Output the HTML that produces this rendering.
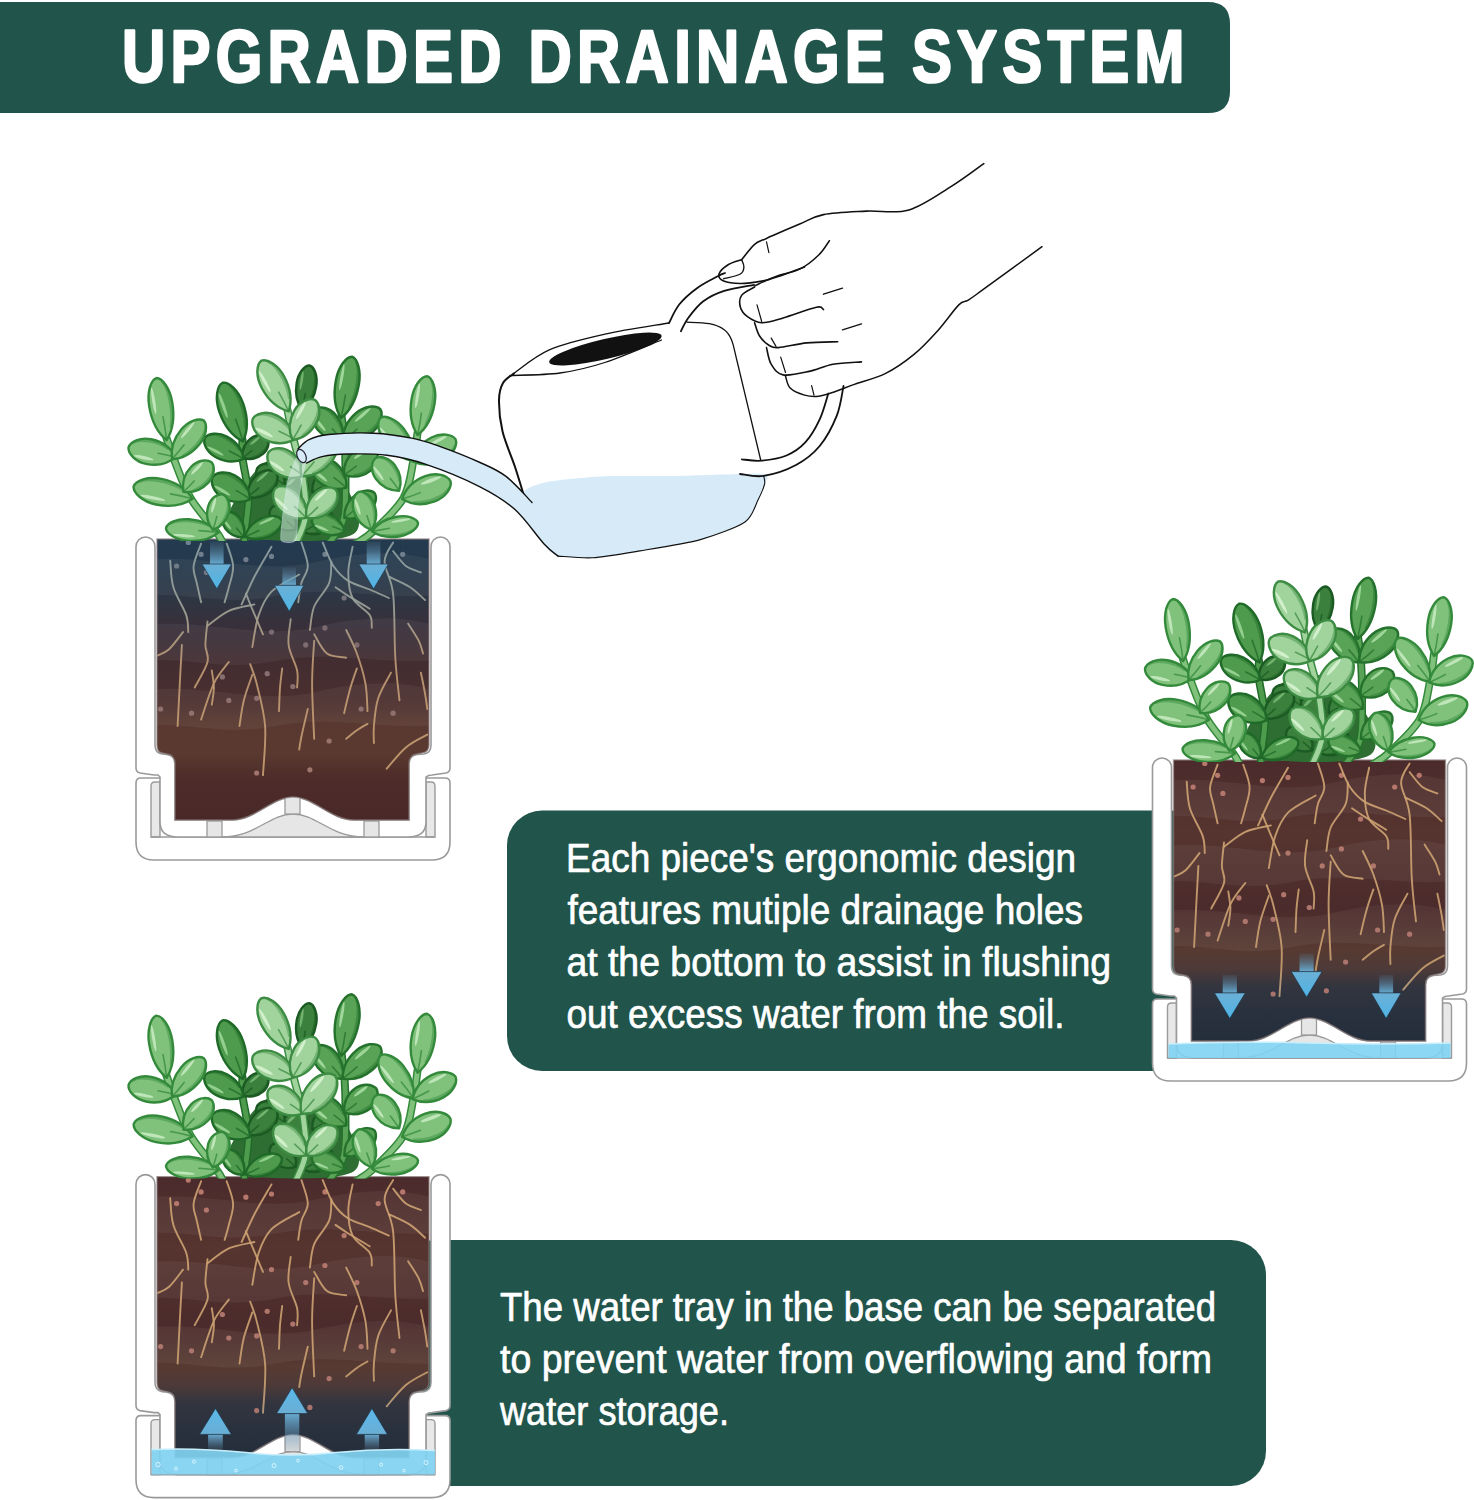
<!DOCTYPE html>
<html><head><meta charset="utf-8"><style>
html,body{margin:0;padding:0;background:#fff;width:1474px;height:1500px;overflow:hidden}
svg{display:block}
</style></head><body>
<svg width="1474" height="1500" viewBox="0 0 1474 1500">
<defs>
<g id="potframe"><path d="M0,246 Q0,241 5,241 H309 Q314,241 314,246 V305 Q314,323 296,323 H18 Q0,323 0,305 Z" fill="#fff" stroke="#9a9a9a" stroke-width="1.6"/><path d="M15,300 V249 Q15,245 19,245 H24 V300 Z" fill="#e8e8e8" stroke="#9a9a9a" stroke-width="1.4"/><path d="M299,300 V249 Q299,245 295,245 H290 V300 Z" fill="#e8e8e8" stroke="#9a9a9a" stroke-width="1.4"/><path d="M15,300 H299" stroke="#9a9a9a" stroke-width="1.6"/><path d="M22,238 Q20,238 18,238 L4,236 Q0,235 0,231 V9.5 A9.5,9.5 0 0 1 19,9.5 V208 Q19,216 26,217 L31,217.5 Q39,218.5 39,227 V283 H96 C119,283 136,260 157,260 C178,260 195,283 218,283 H273 V227 Q273,218.5 281,217.5 L288,217 Q295,216 295,208 V9.5 A9.5,9.5 0 0 1 314,9.5 V231 Q314,235 310,236 L296,238 Q292,238 290,240 V285 Q290,300 272,300 H42 Q24,300 24,285 V240 Q22,238 22,238 Z" fill="#fff" stroke="#9a9a9a" stroke-width="1.6"/><path d="M86,300 C120,300 133,277 157,277 C181,277 194,300 228,300 Z" fill="#e6e6e6" stroke="#9a9a9a" stroke-width="1.4"/><rect x="149" y="258" width="15" height="19" fill="#e6e6e6" stroke="#9a9a9a" stroke-width="1.3"/><rect x="71" y="284" width="15" height="16" fill="#e6e6e6" stroke="#9a9a9a" stroke-width="1.3"/><rect x="228" y="284" width="15" height="16" fill="#e6e6e6" stroke="#9a9a9a" stroke-width="1.3"/></g>
<clipPath id="plantclip"><rect x="-50" y="-250" width="420" height="254"/></clipPath>
<clipPath id="soilclip"><path d="M21,2 H293 V208 Q293,215 286,216 L281,217 Q273,218 273,227 V283 H218 C195,283 178,260 157,260 C136,260 119,283 96,283 H39 V227 Q39,218 31,217 L26,216 Q21,215 21,208 Z"/></clipPath>
<g id="roots" fill="none" stroke-linecap="round"><path d="M34.2,23.7 C34.7,28.1 34.7,41.3 37.4,50.3 C40,59.4 47.7,70.6 50.2,78.1 C52.7,85.5 51.9,92.3 52.3,95.1"/><path d="M65.1,6.6 C63.9,10.3 58.3,22.4 57.6,29 C56.9,35.6 59.6,40 60.8,46.1 C62.1,52.1 64.4,62.1 65.1,65.3"/><path d="M90.7,6.6 C91.8,10.3 96.8,21.7 97.1,29 C97.5,36.3 94.3,44.3 92.8,50.3 C91.4,56.4 89.3,62.8 88.6,65.3"/><path d="M135.5,9.8 C132.7,14.8 123.4,30.1 118.4,39.7 C113.5,49.3 107.8,62.8 105.6,67.4"/><path d="M118.4,67.4 C114.2,68.5 100.7,70.3 92.8,73.8 C85,77.4 75.1,86.3 71.5,88.7"/><path d="M71.5,84.5 C71.2,88.4 69.4,101.2 69.4,107.9 C69.4,114.7 73.3,117.9 71.5,125 C69.7,132.1 60.8,146.3 58.7,150.6"/><path d="M47,95.1 C44.7,98 37.4,108.3 33.1,112.2 C28.8,116.1 23.3,117.5 21.4,118.6"/><path d="M45.9,107.9 C45.5,114.3 44.5,132.8 43.8,146.3 C43.1,159.9 42,181.9 41.6,189"/><path d="M109.9,56.7 C111.7,61 117.7,75.6 120.6,82.3 C123.4,89.1 125.9,94.8 127,97.3"/><path d="M163.2,37.5 C158.6,40.4 142.3,47.8 135.5,54.6 C128.8,61.4 125.9,68.8 122.7,78.1 C119.5,87.3 117.4,104.7 116.3,110.1"/><path d="M165.4,5.5 C166.5,9.4 171.8,22.2 171.8,29 C171.8,35.8 167,40 165.4,46.1 C163.8,52.1 162.7,62.1 162.2,65.3"/><path d="M154.7,82.3 C154.4,86.6 151.5,99.4 152.6,107.9 C153.6,116.5 159.7,126.4 161.1,133.5 C162.5,140.7 161.1,147.8 161.1,150.6"/><path d="M178.2,103.7 C177.8,110.8 176.1,130 176.1,146.3 C176.1,162.7 177.8,192.6 178.2,201.8"/><path d="M195.3,24.7 C194.9,28.3 196,38.6 193.1,46.1 C190.3,53.5 181.4,61.7 178.2,69.5 C175,77.4 174.6,89.1 173.9,93"/><path d="M186.7,5.5 C188.5,9.4 193.1,22.6 197.4,29 C201.7,35.4 206.3,40 212.3,43.9 C218.4,47.8 226.9,49.6 233.7,52.5 C240.4,55.3 249.7,59.6 252.9,61"/><path d="M216.6,9.8 C215.9,14.1 212.3,26.9 212.3,35.4 C212.3,43.9 213,53.9 216.6,61 C220.1,68.1 230.5,73.1 233.7,78.1 C236.9,83.1 235.4,88.7 235.8,90.9"/><path d="M257.1,5.5 C255.7,8.7 248.6,16.2 248.6,24.7 C248.6,33.3 255.3,40.7 257.1,56.7 C258.9,72.7 258.2,103 259.3,120.7 C260.3,138.5 262.8,156.3 263.5,163.4"/><path d="M257.1,14.1 C259.3,16.6 265.3,25.4 269.9,29 C274.6,32.6 282.4,34.3 284.9,35.4"/><path d="M252.9,39.7 C256.4,41.4 268.2,46.4 274.2,50.3 C280.2,54.3 286.6,61 289.1,63.1"/><path d="M199.5,50.3 C201.7,51.8 206.6,55.3 212.3,58.9 C218,62.4 230.1,69.5 233.7,71.7"/><path d="M178.2,97.3 C180.3,100.5 185.7,112.6 191,116.5 C196.3,120.4 207,120 210.2,120.7"/><path d="M210.2,93 C212,96.9 217.7,107.6 220.9,116.5 C224.1,125.4 227.6,136.7 229.4,146.3 C231.2,156 231.2,169.5 231.5,174.1"/><path d="M272.1,86.6 C273.8,89.5 280.2,98.7 282.7,103.7 C285.2,108.7 286.3,114.3 287,116.5"/><path d="M284.9,135.7 C285.6,139.2 288.1,151 289.1,157 C290.2,163.1 290.9,169.5 291.3,172"/><path d="M255,135.7 C252.9,139.9 245,152.4 242.2,161.3 C239.3,170.2 238.6,181.6 237.9,189 C237.2,196.5 237.9,203.2 237.9,206.1"/><path d="M220.9,131.4 C219.8,134.6 216.6,143.1 214.5,150.6 C212.3,158.1 209.1,172 208.1,176.2"/><path d="M75.8,133.5 C76.1,136.4 77.9,144.9 77.9,150.6 C77.9,156.3 76.1,164.8 75.8,167.7"/><path d="M92.8,125 C90.4,128.6 82.5,136.7 77.9,146.3 C73.3,156 67.2,176.6 65.1,182.6"/><path d="M114.2,127.1 C115.2,130.3 118.1,136 120.6,146.3 C123.1,156.7 128,173.7 129.1,189 C130.2,204.3 127.3,229.9 127,238.1"/><path d="M116.3,137.8 C114.9,142.1 109.9,154.9 107.8,163.4 C105.6,172 104.2,184.8 103.5,189"/><path d="M146.2,131.4 C145.8,134.6 144.6,143.5 144,150.6 C143.5,157.7 143.2,170.2 143,174.1"/><path d="M171.8,172 C170.7,176.6 166.8,192.9 165.4,199.7 C164,206.4 163.6,210.4 163.2,212.5"/><path d="M231.5,186.9 C229.7,188 224.4,190.8 220.9,193.3 C217.3,195.8 212,200.4 210.2,201.8"/><path d="M291.3,197.6 C287.7,199.7 276.7,204.7 269.9,210.4 C263.2,216 253.9,228.1 250.7,231.7"/></g>
<g id="dots"><circle cx="40.6" cy="29" r="2.6"/><circle cx="65.1" cy="17.3" r="2.6"/><circle cx="70.4" cy="35.4" r="2.6"/><circle cx="109.9" cy="22.6" r="2.6"/><circle cx="135.5" cy="19.4" r="2.6"/><circle cx="188.9" cy="17.3" r="2.6"/><circle cx="242.2" cy="29" r="2.6"/><circle cx="266.7" cy="17.3" r="2.6"/><circle cx="208.1" cy="61" r="2.6"/><circle cx="135.5" cy="95.1" r="2.6"/><circle cx="188.9" cy="90.9" r="2.6"/><circle cx="131.2" cy="136.7" r="2.6"/><circle cx="156.8" cy="149.5" r="2.6"/><circle cx="86.4" cy="139.9" r="2.6"/><circle cx="92.8" cy="163.4" r="2.6"/><circle cx="120.6" cy="161.3" r="2.6"/><circle cx="55.5" cy="176.2" r="2.6"/><circle cx="24.6" cy="172" r="2.6"/><circle cx="225.1" cy="172" r="2.6"/><circle cx="257.1" cy="176.2" r="2.6"/><circle cx="193.1" cy="204" r="2.6"/><circle cx="120.6" cy="236" r="2.6"/><circle cx="173.9" cy="232.8" r="2.6"/><circle cx="52.3" cy="5.5" r="2.6"/><circle cx="220.9" cy="107.9" r="2.6"/><circle cx="169.7" cy="107.9" r="2.6"/></g>
<linearGradient id="soilTL" x1="0" y1="0" x2="0" y2="1">
<stop offset="0" stop-color="#233b50"/><stop offset="0.1" stop-color="#25394c"/><stop offset="0.2" stop-color="#2e3644"/><stop offset="0.3" stop-color="#38303a"/><stop offset="0.42" stop-color="#432d31"/>
<stop offset="0.55" stop-color="#4b2f2e"/><stop offset="0.62" stop-color="#583830"/><stop offset="0.72" stop-color="#5a3a30"/><stop offset="0.8" stop-color="#4d2c2a"/><stop offset="1" stop-color="#472627"/></linearGradient>
<linearGradient id="soilR" x1="0" y1="0" x2="0" y2="1">
<stop offset="0" stop-color="#4a2a2b"/><stop offset="0.25" stop-color="#563530"/><stop offset="0.5" stop-color="#4b2b2b"/>
<stop offset="0.64" stop-color="#573a32"/><stop offset="0.7" stop-color="#4e3a38"/><stop offset="0.76" stop-color="#33353f"/><stop offset="0.85" stop-color="#29313e"/><stop offset="1" stop-color="#212b38"/></linearGradient>
<linearGradient id="rootTL" gradientUnits="userSpaceOnUse" x1="0" y1="0" x2="0" y2="300">
<stop offset="0" stop-color="#8fa3a6"/><stop offset="0.22" stop-color="#9ca29a"/><stop offset="0.42" stop-color="#bf9a74"/><stop offset="1" stop-color="#cda272"/></linearGradient>
<linearGradient id="rootR" gradientUnits="userSpaceOnUse" x1="0" y1="0" x2="0" y2="300">
<stop offset="0" stop-color="#d0a372"/><stop offset="0.7" stop-color="#c99f70"/><stop offset="0.9" stop-color="#a8a096"/><stop offset="1" stop-color="#8c98a0"/></linearGradient>
<linearGradient id="dottl" gradientUnits="userSpaceOnUse" x1="0" y1="0" x2="0" y2="300">
<stop offset="0" stop-color="#6e8494"/><stop offset="0.3" stop-color="#7a6a70"/><stop offset="1" stop-color="#b27a6c"/></linearGradient>
<linearGradient id="dotr" gradientUnits="userSpaceOnUse" x1="0" y1="0" x2="0" y2="300">
<stop offset="0" stop-color="#b8786c"/><stop offset="0.8" stop-color="#a8746c"/><stop offset="1" stop-color="#5a5a66"/></linearGradient>
<linearGradient id="dotb" href="#dotr"/>
<linearGradient id="headgD" x1="0" y1="0" x2="0" y2="1"><stop offset="0" stop-color="#6bb0d6"/><stop offset="1" stop-color="#4fb4e6"/></linearGradient>
<linearGradient id="stemgD" x1="0" y1="0" x2="0" y2="1"><stop offset="0" stop-color="#5a7d96" stop-opacity="0.15"/><stop offset="1" stop-color="#6ab0d8" stop-opacity="0.95"/></linearGradient>
<linearGradient id="headgU" x1="0" y1="0" x2="0" y2="1"><stop offset="0" stop-color="#5ab8ea"/><stop offset="1" stop-color="#6aaed4"/></linearGradient>
<linearGradient id="stemgU" x1="0" y1="0" x2="0" y2="1"><stop offset="0" stop-color="#6ab0d8" stop-opacity="0.95"/><stop offset="1" stop-color="#5a7d96" stop-opacity="0.15"/></linearGradient>
<g id="bands" fill="#ffffff" fill-opacity="0.05"><path d="M0,25 C60,13 120,39 180,25 S280,15 314,29 V57 C250,65 200,47 140,59 S40,51 0,61 Z"/><path d="M0,90 C60,78 120,104 180,90 S280,80 314,94 V122 C250,130 200,112 140,124 S40,116 0,126 Z"/><path d="M0,155 C60,143 120,169 180,155 S280,145 314,159 V187 C250,195 200,177 140,189 S40,181 0,191 Z"/></g>
<g id="plant"><path d="M97.5,-3 C79.5,-11.3 101.2,-39.7 109.5,-53 C117.8,-66.3 132.8,-80.5 147.5,-83 C162.2,-85.5 185.8,-81.3 197.5,-68 C209.2,-54.7 234.2,-13.8 217.5,-3 C200.8,7.8 115.5,5.3 97.5,-3Z" fill="#2f6e33"/><g transform="translate(169.9,-149) rotate(-80.8)"><path d="M-22.8,0 C-17.1,-5.9 -8,-9.9 3.4,-9.9 C14.1,-9.9 22.1,-4.8 22.8,0 C22.1,4.8 14.1,9.9 3.4,9.9 C-8,9.9 -17.1,5.9 -22.8,0Z" fill="#3b803d" stroke="#1b5a22" stroke-width="2.4" stroke-linejoin="round"/><path d="M-13.7,5.4 C-2.3,9.4 13.7,8.9 19.4,4.5" fill="none" stroke="#1b5a22" stroke-width="2.2" stroke-opacity="0.45" stroke-linecap="round"/><path d="M-22.8,0 Q-13.7,0.5 -5.7,0.2" fill="none" stroke="#1b5a22" stroke-width="1.6" stroke-opacity="0.75" stroke-linecap="round"/><ellipse cx="6.8" cy="-5.4" rx="9.6" ry="1.3" fill="#72b36f"/></g><g transform="translate(147.5,-18.4) rotate(-138.6)"><path d="M-16.2,0 C-12.2,-6.5 -5.7,-10.8 2.4,-10.8 C10.1,-10.8 15.7,-5.2 16.2,0 C15.7,5.2 10.1,10.8 2.4,10.8 C-5.7,10.8 -12.2,6.5 -16.2,0Z" fill="#3b803d" stroke="#1b5a22" stroke-width="2.4" stroke-linejoin="round"/><path d="M-9.7,5.9 C-1.6,10.3 9.7,9.7 13.8,4.9" fill="none" stroke="#1b5a22" stroke-width="2.4" stroke-opacity="0.45" stroke-linecap="round"/><path d="M-16.2,0 Q-9.7,0.5 -4.1,0.2" fill="none" stroke="#1b5a22" stroke-width="1.6" stroke-opacity="0.75" stroke-linecap="round"/><ellipse cx="4.9" cy="-5.9" rx="6.8" ry="1.4" fill="#72b36f"/></g><g transform="translate(181.5,-14) rotate(-31.6)"><path d="M-16.8,0 C-12.6,-6.5 -5.9,-10.8 2.5,-10.8 C10.4,-10.8 16.3,-5.2 16.8,0 C16.3,5.2 10.4,10.8 2.5,10.8 C-5.9,10.8 -12.6,6.5 -16.8,0Z" fill="#3b803d" stroke="#1b5a22" stroke-width="2.4" stroke-linejoin="round"/><path d="M-10.1,5.9 C-1.7,10.3 10.1,9.7 14.2,4.9" fill="none" stroke="#1b5a22" stroke-width="2.4" stroke-opacity="0.45" stroke-linecap="round"/><path d="M-16.8,0 Q-10.1,0.5 -4.2,0.2" fill="none" stroke="#1b5a22" stroke-width="1.6" stroke-opacity="0.75" stroke-linecap="round"/><ellipse cx="5" cy="-5.9" rx="7" ry="1.4" fill="#72b36f"/></g><g transform="translate(157.5,-48) rotate(-45)"><path d="M-15.6,0 C-11.7,-7.6 -5.5,-12.6 2.3,-12.6 C9.7,-12.6 15.2,-6 15.6,0 C15.2,6 9.7,12.6 2.3,12.6 C-5.5,12.6 -11.7,7.6 -15.6,0Z" fill="#3b803d" stroke="#1b5a22" stroke-width="2.4" stroke-linejoin="round"/><path d="M-9.4,6.9 C-1.6,12 9.4,11.3 13.3,5.7" fill="none" stroke="#1b5a22" stroke-width="2.8" stroke-opacity="0.45" stroke-linecap="round"/><path d="M-15.6,0 Q-9.4,0.6 -3.9,0.3" fill="none" stroke="#1b5a22" stroke-width="1.6" stroke-opacity="0.75" stroke-linecap="round"/><ellipse cx="4.7" cy="-6.9" rx="6.6" ry="1.6" fill="#72b36f"/></g><g transform="translate(135,-60.5) rotate(-149)"><path d="M-16.1,0 C-12.1,-7 -5.6,-11.7 2.4,-11.7 C10,-11.7 15.6,-5.6 16.1,0 C15.6,5.6 10,11.7 2.4,11.7 C-5.6,11.7 -12.1,7 -16.1,0Z" fill="#3b803d" stroke="#1b5a22" stroke-width="2.4" stroke-linejoin="round"/><path d="M-9.6,6.4 C-1.6,11.1 9.6,10.5 13.7,5.3" fill="none" stroke="#1b5a22" stroke-width="2.6" stroke-opacity="0.45" stroke-linecap="round"/><path d="M-16.1,0 Q-9.6,0.6 -4,0.2" fill="none" stroke="#1b5a22" stroke-width="1.6" stroke-opacity="0.75" stroke-linecap="round"/><ellipse cx="4.8" cy="-6.4" rx="6.8" ry="1.5" fill="#72b36f"/></g><g transform="translate(188.5,-52) rotate(-28.6)"><path d="M-14,0 C-10.5,-7 -4.9,-11.7 2.1,-11.7 C8.7,-11.7 13.6,-5.6 14,0 C13.6,5.6 8.7,11.7 2.1,11.7 C-4.9,11.7 -10.5,7 -14,0Z" fill="#3b803d" stroke="#1b5a22" stroke-width="2.4" stroke-linejoin="round"/><path d="M-8.4,6.4 C-1.4,11.1 8.4,10.5 11.9,5.3" fill="none" stroke="#1b5a22" stroke-width="2.6" stroke-opacity="0.45" stroke-linecap="round"/><path d="M-14,0 Q-8.4,0.6 -3.5,0.2" fill="none" stroke="#1b5a22" stroke-width="1.6" stroke-opacity="0.75" stroke-linecap="round"/><ellipse cx="4.2" cy="-6.4" rx="5.9" ry="1.5" fill="#72b36f"/></g><path d="M106.5,-97 C106.5,-94 105.5,-88.5 106.5,-79 C107.5,-69.5 112.2,-53 112.5,-40 C112.8,-27 109,-8.8 108.5,-1 C108,6.8 109.3,5.7 109.5,7" fill="none" stroke="#1f6a28" stroke-width="8" stroke-linecap="round"/><path d="M106.5,-97 C106.5,-94 105.5,-88.5 106.5,-79 C107.5,-69.5 112.2,-53 112.5,-40 C112.8,-27 109,-8.8 108.5,-1 C108,6.8 109.3,5.7 109.5,7" fill="none" stroke="#4f9b4d" stroke-width="5" stroke-linecap="round"/><g transform="translate(96.8,-124.9) rotate(-109.2)"><path d="M-31.1,0 C-23.3,-7.6 -10.9,-12.6 4.7,-12.6 C19.3,-12.6 30.2,-6 31.1,0 C30.2,6 19.3,12.6 4.7,12.6 C-10.9,12.6 -23.3,7.6 -31.1,0Z" fill="#4f9b4d" stroke="#1f6a28" stroke-width="2.4" stroke-linejoin="round"/><path d="M-18.7,6.9 C-3.1,12 18.7,11.3 26.4,5.7" fill="none" stroke="#1f6a28" stroke-width="2.8" stroke-opacity="0.45" stroke-linecap="round"/><path d="M-31.1,0 Q-18.7,0.6 -7.8,0.3" fill="none" stroke="#1f6a28" stroke-width="1.6" stroke-opacity="0.75" stroke-linecap="round"/><ellipse cx="9.3" cy="-6.9" rx="13.1" ry="1.6" fill="#93cf8f"/></g><g transform="translate(118.9,-89.2) rotate(-39.5)"><path d="M-15.8,0 C-11.9,-5.9 -5.5,-9.9 2.4,-9.9 C9.8,-9.9 15.3,-4.8 15.8,0 C15.3,4.8 9.8,9.9 2.4,9.9 C-5.5,9.9 -11.9,5.9 -15.8,0Z" fill="#3b803d" stroke="#1b5a22" stroke-width="2.4" stroke-linejoin="round"/><path d="M-9.5,5.4 C-1.6,9.4 9.5,8.9 13.4,4.5" fill="none" stroke="#1b5a22" stroke-width="2.2" stroke-opacity="0.45" stroke-linecap="round"/><path d="M-15.8,0 Q-9.5,0.5 -4,0.2" fill="none" stroke="#1b5a22" stroke-width="1.6" stroke-opacity="0.75" stroke-linecap="round"/><ellipse cx="4.7" cy="-5.4" rx="6.6" ry="1.3" fill="#72b36f"/></g><g transform="translate(88.3,-88.5) rotate(-151.8)"><path d="M-22.1,0 C-16.6,-7 -7.8,-11.7 3.3,-11.7 C13.7,-11.7 21.5,-5.6 22.1,0 C21.5,5.6 13.7,11.7 3.3,11.7 C-7.8,11.7 -16.6,7 -22.1,0Z" fill="#4f9b4d" stroke="#1f6a28" stroke-width="2.4" stroke-linejoin="round"/><path d="M-13.3,6.4 C-2.2,11.1 13.3,10.5 18.8,5.3" fill="none" stroke="#1f6a28" stroke-width="2.6" stroke-opacity="0.45" stroke-linecap="round"/><path d="M-22.1,0 Q-13.3,0.6 -5.5,0.2" fill="none" stroke="#1f6a28" stroke-width="1.6" stroke-opacity="0.75" stroke-linecap="round"/><ellipse cx="6.6" cy="-6.4" rx="9.3" ry="1.5" fill="#93cf8f"/></g><g transform="translate(126,-52.2) rotate(-40.4)"><path d="M-18.6,0 C-13.9,-6.5 -6.5,-10.8 2.8,-10.8 C11.5,-10.8 18,-5.2 18.6,0 C18,5.2 11.5,10.8 2.8,10.8 C-6.5,10.8 -13.9,6.5 -18.6,0Z" fill="#3b803d" stroke="#1b5a22" stroke-width="2.4" stroke-linejoin="round"/><path d="M-11.1,5.9 C-1.9,10.3 11.1,9.7 15.8,4.9" fill="none" stroke="#1b5a22" stroke-width="2.4" stroke-opacity="0.45" stroke-linecap="round"/><path d="M-18.6,0 Q-11.1,0.5 -4.6,0.2" fill="none" stroke="#1b5a22" stroke-width="1.6" stroke-opacity="0.75" stroke-linecap="round"/><ellipse cx="5.6" cy="-5.9" rx="7.8" ry="1.4" fill="#72b36f"/></g><g transform="translate(95.5,-48.9) rotate(-149.3)"><path d="M-21.9,0 C-16.4,-7.6 -7.7,-12.6 3.3,-12.6 C13.6,-12.6 21.2,-6 21.9,0 C21.2,6 13.6,12.6 3.3,12.6 C-7.7,12.6 -16.4,7.6 -21.9,0Z" fill="#4f9b4d" stroke="#1f6a28" stroke-width="2.4" stroke-linejoin="round"/><path d="M-13.1,6.9 C-2.2,12 13.1,11.3 18.6,5.7" fill="none" stroke="#1f6a28" stroke-width="2.8" stroke-opacity="0.45" stroke-linecap="round"/><path d="M-21.9,0 Q-13.1,0.6 -5.5,0.3" fill="none" stroke="#1f6a28" stroke-width="1.6" stroke-opacity="0.75" stroke-linecap="round"/><ellipse cx="6.6" cy="-6.9" rx="9.2" ry="1.6" fill="#93cf8f"/></g><g transform="translate(98,-12) rotate(-127.7)"><path d="M-15.4,0 C-11.6,-5.4 -5.4,-9 2.3,-9 C9.5,-9 14.9,-4.3 15.4,0 C14.9,4.3 9.5,9 2.3,9 C-5.4,9 -11.6,5.4 -15.4,0Z" fill="#4f9b4d" stroke="#1f6a28" stroke-width="2.4" stroke-linejoin="round"/><path d="M-9.2,5 C-1.5,8.5 9.2,8.1 13.1,4" fill="none" stroke="#1f6a28" stroke-width="2" stroke-opacity="0.45" stroke-linecap="round"/><path d="M-15.4,0 Q-9.2,0.5 -3.9,0.2" fill="none" stroke="#1f6a28" stroke-width="1.6" stroke-opacity="0.75" stroke-linecap="round"/><ellipse cx="4.6" cy="-5" rx="6.5" ry="1.2" fill="#93cf8f"/></g><g transform="translate(127.3,-8.7) rotate(-24.5)"><path d="M-20.1,0 C-15.1,-5.9 -7,-9.9 3,-9.9 C12.4,-9.9 19.5,-4.8 20.1,0 C19.5,4.8 12.4,9.9 3,9.9 C-7,9.9 -15.1,5.9 -20.1,0Z" fill="#4f9b4d" stroke="#1f6a28" stroke-width="2.4" stroke-linejoin="round"/><path d="M-12,5.4 C-2,9.4 12,8.9 17.1,4.5" fill="none" stroke="#1f6a28" stroke-width="2.2" stroke-opacity="0.45" stroke-linecap="round"/><path d="M-20.1,0 Q-12,0.5 -5,0.2" fill="none" stroke="#1f6a28" stroke-width="1.6" stroke-opacity="0.75" stroke-linecap="round"/><ellipse cx="6" cy="-5.4" rx="8.4" ry="1.3" fill="#93cf8f"/></g><path d="M205.5,-121 C206,-117 207.8,-107.5 208.5,-97 C209.2,-86.5 209.7,-71.2 209.5,-58 C209.3,-44.8 210.3,-28.8 207.5,-18 C204.7,-7.2 195,2.8 192.5,7" fill="none" stroke="#24722c" stroke-width="8" stroke-linecap="round"/><path d="M205.5,-121 C206,-117 207.8,-107.5 208.5,-97 C209.2,-86.5 209.7,-71.2 209.5,-58 C209.3,-44.8 210.3,-28.8 207.5,-18 C204.7,-7.2 195,2.8 192.5,7" fill="none" stroke="#58a356" stroke-width="5" stroke-linecap="round"/><g transform="translate(210.5,-149.6) rotate(-79.9)"><path d="M-31.2,0 C-23.4,-7 -10.9,-11.7 4.7,-11.7 C19.3,-11.7 30.3,-5.6 31.2,0 C30.3,5.6 19.3,11.7 4.7,11.7 C-10.9,11.7 -23.4,7 -31.2,0Z" fill="#58a356" stroke="#24722c" stroke-width="2.4" stroke-linejoin="round"/><path d="M-18.7,6.4 C-3.1,11.1 18.7,10.5 26.5,5.3" fill="none" stroke="#24722c" stroke-width="2.6" stroke-opacity="0.45" stroke-linecap="round"/><path d="M-31.2,0 Q-18.7,0.6 -7.8,0.2" fill="none" stroke="#24722c" stroke-width="1.6" stroke-opacity="0.75" stroke-linecap="round"/><ellipse cx="9.4" cy="-6.4" rx="13.1" ry="1.5" fill="#9fd69a"/></g><g transform="translate(192.9,-112) rotate(-129.6)"><path d="M-21,0 C-15.7,-7 -7.3,-11.7 3.1,-11.7 C13,-11.7 20.3,-5.6 21,0 C20.3,5.6 13,11.7 3.1,11.7 C-7.3,11.7 -15.7,7 -21,0Z" fill="#58a356" stroke="#24722c" stroke-width="2.4" stroke-linejoin="round"/><path d="M-12.6,6.4 C-2.1,11.1 12.6,10.5 17.8,5.3" fill="none" stroke="#24722c" stroke-width="2.6" stroke-opacity="0.45" stroke-linecap="round"/><path d="M-21,0 Q-12.6,0.6 -5.2,0.2" fill="none" stroke="#24722c" stroke-width="1.6" stroke-opacity="0.75" stroke-linecap="round"/><ellipse cx="6.3" cy="-6.4" rx="8.8" ry="1.5" fill="#9fd69a"/></g><g transform="translate(225.5,-112) rotate(-40.5)"><path d="M-24.6,0 C-18.4,-7.6 -8.6,-12.6 3.7,-12.6 C15.2,-12.6 23.8,-6 24.6,0 C23.8,6 15.2,12.6 3.7,12.6 C-8.6,12.6 -18.4,7.6 -24.6,0Z" fill="#58a356" stroke="#24722c" stroke-width="2.4" stroke-linejoin="round"/><path d="M-14.8,6.9 C-2.5,12 14.8,11.3 20.9,5.7" fill="none" stroke="#24722c" stroke-width="2.8" stroke-opacity="0.45" stroke-linecap="round"/><path d="M-24.6,0 Q-14.8,0.6 -6.1,0.3" fill="none" stroke="#24722c" stroke-width="1.6" stroke-opacity="0.75" stroke-linecap="round"/><ellipse cx="7.4" cy="-6.9" rx="10.3" ry="1.6" fill="#9fd69a"/></g><g transform="translate(193.6,-62.6) rotate(-141.5)"><path d="M-21.4,0 C-16.1,-7.6 -7.5,-12.6 3.2,-12.6 C13.3,-12.6 20.8,-6 21.4,0 C20.8,6 13.3,12.6 3.2,12.6 C-7.5,12.6 -16.1,7.6 -21.4,0Z" fill="#58a356" stroke="#24722c" stroke-width="2.4" stroke-linejoin="round"/><path d="M-12.9,6.9 C-2.1,12 12.9,11.3 18.2,5.7" fill="none" stroke="#24722c" stroke-width="2.8" stroke-opacity="0.45" stroke-linecap="round"/><path d="M-21.4,0 Q-12.9,0.6 -5.4,0.3" fill="none" stroke="#24722c" stroke-width="1.6" stroke-opacity="0.75" stroke-linecap="round"/><ellipse cx="6.4" cy="-6.9" rx="9" ry="1.6" fill="#9fd69a"/></g><g transform="translate(224.1,-74.2) rotate(-36.6)"><path d="M-20.1,0 C-15,-7.6 -7,-12.6 3,-12.6 C12.4,-12.6 19.4,-6 20.1,0 C19.4,6 12.4,12.6 3,12.6 C-7,12.6 -15,7.6 -20.1,0Z" fill="#58a356" stroke="#24722c" stroke-width="2.4" stroke-linejoin="round"/><path d="M-12,6.9 C-2,12 12,11.3 17,5.7" fill="none" stroke="#24722c" stroke-width="2.8" stroke-opacity="0.45" stroke-linecap="round"/><path d="M-20.1,0 Q-12,0.6 -5,0.3" fill="none" stroke="#24722c" stroke-width="1.6" stroke-opacity="0.75" stroke-linecap="round"/><ellipse cx="6" cy="-6.9" rx="8.4" ry="1.6" fill="#9fd69a"/></g><g transform="translate(223.5,-31.5) rotate(-39.4)"><path d="M-19.6,0 C-14.7,-6.5 -6.9,-10.8 2.9,-10.8 C12.2,-10.8 19,-5.2 19.6,0 C19,5.2 12.2,10.8 2.9,10.8 C-6.9,10.8 -14.7,6.5 -19.6,0Z" fill="#58a356" stroke="#24722c" stroke-width="2.4" stroke-linejoin="round"/><path d="M-11.8,5.9 C-2,10.3 11.8,9.7 16.7,4.9" fill="none" stroke="#24722c" stroke-width="2.4" stroke-opacity="0.45" stroke-linecap="round"/><path d="M-19.6,0 Q-11.8,0.5 -4.9,0.2" fill="none" stroke="#24722c" stroke-width="1.6" stroke-opacity="0.75" stroke-linecap="round"/><ellipse cx="5.9" cy="-5.9" rx="8.2" ry="1.4" fill="#9fd69a"/></g><g transform="translate(192.5,-12) rotate(-158.2)"><path d="M-17.7,0 C-13.2,-5.9 -6.2,-9.9 2.6,-9.9 C10.9,-9.9 17.1,-4.8 17.7,0 C17.1,4.8 10.9,9.9 2.6,9.9 C-6.2,9.9 -13.2,5.9 -17.7,0Z" fill="#58a356" stroke="#24722c" stroke-width="2.4" stroke-linejoin="round"/><path d="M-10.6,5.4 C-1.8,9.4 10.6,8.9 15,4.5" fill="none" stroke="#24722c" stroke-width="2.2" stroke-opacity="0.45" stroke-linecap="round"/><path d="M-17.7,0 Q-10.6,0.5 -4.4,0.2" fill="none" stroke="#24722c" stroke-width="1.6" stroke-opacity="0.75" stroke-linecap="round"/><ellipse cx="5.3" cy="-5.4" rx="7.4" ry="1.3" fill="#9fd69a"/></g><path d="M30.5,-99 C31.7,-95.7 33.5,-89 37.5,-79 C41.5,-69 47.3,-51.3 54.5,-39 C61.7,-26.7 75,-12.7 80.5,-5 C86,2.7 86.3,5 87.5,7" fill="none" stroke="#348a3b" stroke-width="8" stroke-linecap="round"/><path d="M30.5,-99 C31.7,-95.7 33.5,-89 37.5,-79 C41.5,-69 47.3,-51.3 54.5,-39 C61.7,-26.7 75,-12.7 80.5,-5 C86,2.7 86.3,5 87.5,7" fill="none" stroke="#80c27c" stroke-width="5" stroke-linecap="round"/><g transform="translate(25.5,-127.9) rotate(-99.4)"><path d="M-31.5,0 C-23.6,-7 -11,-11.7 4.7,-11.7 C19.5,-11.7 30.6,-5.6 31.5,0 C30.6,5.6 19.5,11.7 4.7,11.7 C-11,11.7 -23.6,7 -31.5,0Z" fill="#80c27c" stroke="#348a3b" stroke-width="2.4" stroke-linejoin="round"/><path d="M-18.9,6.4 C-3.2,11.1 18.9,10.5 26.8,5.3" fill="none" stroke="#348a3b" stroke-width="2.6" stroke-opacity="0.45" stroke-linecap="round"/><path d="M-31.5,0 Q-18.9,0.6 -7.9,0.2" fill="none" stroke="#348a3b" stroke-width="1.6" stroke-opacity="0.75" stroke-linecap="round"/><ellipse cx="9.5" cy="-6.4" rx="13.2" ry="1.5" fill="#bfe6b9"/></g><g transform="translate(16.1,-84.7) rotate(-168.4)"><path d="M-24.1,0 C-18,-7.6 -8.4,-12.6 3.6,-12.6 C14.9,-12.6 23.3,-6 24.1,0 C23.3,6 14.9,12.6 3.6,12.6 C-8.4,12.6 -18,7.6 -24.1,0Z" fill="#80c27c" stroke="#348a3b" stroke-width="2.4" stroke-linejoin="round"/><path d="M-14.4,6.9 C-2.4,12 14.4,11.3 20.5,5.7" fill="none" stroke="#348a3b" stroke-width="2.8" stroke-opacity="0.45" stroke-linecap="round"/><path d="M-24.1,0 Q-14.4,0.6 -6,0.3" fill="none" stroke="#348a3b" stroke-width="1.6" stroke-opacity="0.75" stroke-linecap="round"/><ellipse cx="7.2" cy="-6.9" rx="10.1" ry="1.6" fill="#bfe6b9"/></g><g transform="translate(51.9,-97.1) rotate(-50.4)"><path d="M-25,0 C-18.7,-7 -8.7,-11.7 3.7,-11.7 C15.5,-11.7 24.2,-5.6 25,0 C24.2,5.6 15.5,11.7 3.7,11.7 C-8.7,11.7 -18.7,7 -25,0Z" fill="#80c27c" stroke="#348a3b" stroke-width="2.4" stroke-linejoin="round"/><path d="M-15,6.4 C-2.5,11.1 15,10.5 21.2,5.3" fill="none" stroke="#348a3b" stroke-width="2.6" stroke-opacity="0.45" stroke-linecap="round"/><path d="M-25,0 Q-15,0.6 -6.2,0.2" fill="none" stroke="#348a3b" stroke-width="1.6" stroke-opacity="0.75" stroke-linecap="round"/><ellipse cx="7.5" cy="-6.4" rx="10.5" ry="1.5" fill="#bfe6b9"/></g><g transform="translate(27.1,-44.4) rotate(-168.2)"><path d="M-30.1,0 C-22.5,-7.8 -10.5,-13.1 4.5,-13.1 C18.6,-13.1 29.2,-6.3 30.1,0 C29.2,6.3 18.6,13.1 4.5,13.1 C-10.5,13.1 -22.5,7.8 -30.1,0Z" fill="#80c27c" stroke="#348a3b" stroke-width="2.4" stroke-linejoin="round"/><path d="M-18,7.2 C-3,12.4 18,11.7 25.5,5.9" fill="none" stroke="#348a3b" stroke-width="2.9" stroke-opacity="0.45" stroke-linecap="round"/><path d="M-30.1,0 Q-18,0.7 -7.5,0.3" fill="none" stroke="#348a3b" stroke-width="1.6" stroke-opacity="0.75" stroke-linecap="round"/><ellipse cx="9" cy="-7.2" rx="12.6" ry="1.7" fill="#bfe6b9"/></g><g transform="translate(61.5,-59.9) rotate(-46.4)"><path d="M-20.4,0 C-15.3,-7 -7.1,-11.7 3.1,-11.7 C12.6,-11.7 19.7,-5.6 20.4,0 C19.7,5.6 12.6,11.7 3.1,11.7 C-7.1,11.7 -15.3,7 -20.4,0Z" fill="#80c27c" stroke="#348a3b" stroke-width="2.4" stroke-linejoin="round"/><path d="M-12.2,6.4 C-2,11.1 12.2,10.5 17.3,5.3" fill="none" stroke="#348a3b" stroke-width="2.6" stroke-opacity="0.45" stroke-linecap="round"/><path d="M-20.4,0 Q-12.2,0.6 -5.1,0.2" fill="none" stroke="#348a3b" stroke-width="1.6" stroke-opacity="0.75" stroke-linecap="round"/><ellipse cx="6.1" cy="-6.4" rx="8.5" ry="1.5" fill="#bfe6b9"/></g><g transform="translate(56.3,-6.7) rotate(-175.5)"><path d="M-26.4,0 C-19.8,-6.5 -9.2,-10.8 4,-10.8 C16.4,-10.8 25.6,-5.2 26.4,0 C25.6,5.2 16.4,10.8 4,10.8 C-9.2,10.8 -19.8,6.5 -26.4,0Z" fill="#80c27c" stroke="#348a3b" stroke-width="2.4" stroke-linejoin="round"/><path d="M-15.8,5.9 C-2.6,10.3 15.8,9.7 22.4,4.9" fill="none" stroke="#348a3b" stroke-width="2.4" stroke-opacity="0.45" stroke-linecap="round"/><path d="M-26.4,0 Q-15.8,0.5 -6.6,0.2" fill="none" stroke="#348a3b" stroke-width="1.6" stroke-opacity="0.75" stroke-linecap="round"/><ellipse cx="7.9" cy="-5.9" rx="11.1" ry="1.4" fill="#bfe6b9"/></g><g transform="translate(81.8,-24.9) rotate(-74.4)"><path d="M-18.4,0 C-13.8,-6.5 -6.4,-10.8 2.8,-10.8 C11.4,-10.8 17.8,-5.2 18.4,0 C17.8,5.2 11.4,10.8 2.8,10.8 C-6.4,10.8 -13.8,6.5 -18.4,0Z" fill="#80c27c" stroke="#348a3b" stroke-width="2.4" stroke-linejoin="round"/><path d="M-11,5.9 C-1.8,10.3 11,9.7 15.6,4.9" fill="none" stroke="#348a3b" stroke-width="2.4" stroke-opacity="0.45" stroke-linecap="round"/><path d="M-18.4,0 Q-11,0.5 -4.6,0.2" fill="none" stroke="#348a3b" stroke-width="1.6" stroke-opacity="0.75" stroke-linecap="round"/><ellipse cx="5.5" cy="-5.9" rx="7.7" ry="1.4" fill="#bfe6b9"/></g><path d="M281.5,-104 C280.8,-99.5 279.8,-87.8 277.5,-77 C275.2,-66.2 274.2,-50.8 267.5,-39 C260.8,-27.2 245.5,-13.7 237.5,-6 C229.5,1.7 222.5,4.8 219.5,7" fill="none" stroke="#348a3b" stroke-width="8" stroke-linecap="round"/><path d="M281.5,-104 C280.8,-99.5 279.8,-87.8 277.5,-77 C275.2,-66.2 274.2,-50.8 267.5,-39 C260.8,-27.2 245.5,-13.7 237.5,-6 C229.5,1.7 222.5,4.8 219.5,7" fill="none" stroke="#80c27c" stroke-width="5" stroke-linecap="round"/><g transform="translate(286.4,-131.4) rotate(-80.8)"><path d="M-29.8,0 C-22.4,-7 -10.4,-11.7 4.5,-11.7 C18.5,-11.7 28.9,-5.6 29.8,0 C28.9,5.6 18.5,11.7 4.5,11.7 C-10.4,11.7 -22.4,7 -29.8,0Z" fill="#80c27c" stroke="#348a3b" stroke-width="2.4" stroke-linejoin="round"/><path d="M-17.9,6.4 C-3,11.1 17.9,10.5 25.3,5.3" fill="none" stroke="#348a3b" stroke-width="2.6" stroke-opacity="0.45" stroke-linecap="round"/><path d="M-29.8,0 Q-17.9,0.6 -7.5,0.2" fill="none" stroke="#348a3b" stroke-width="1.6" stroke-opacity="0.75" stroke-linecap="round"/><ellipse cx="8.9" cy="-6.4" rx="12.5" ry="1.5" fill="#bfe6b9"/></g><g transform="translate(261,-97.8) rotate(-127.4)"><path d="M-27,0 C-20.3,-7 -9.5,-11.7 4.1,-11.7 C16.7,-11.7 26.2,-5.6 27,0 C26.2,5.6 16.7,11.7 4.1,11.7 C-9.5,11.7 -20.3,7 -27,0Z" fill="#80c27c" stroke="#348a3b" stroke-width="2.4" stroke-linejoin="round"/><path d="M-16.2,6.4 C-2.7,11.1 16.2,10.5 23,5.3" fill="none" stroke="#348a3b" stroke-width="2.6" stroke-opacity="0.45" stroke-linecap="round"/><path d="M-27,0 Q-16.2,0.6 -6.8,0.2" fill="none" stroke="#348a3b" stroke-width="1.6" stroke-opacity="0.75" stroke-linecap="round"/><ellipse cx="8.1" cy="-6.4" rx="11.3" ry="1.5" fill="#bfe6b9"/></g><g transform="translate(298.1,-86.6) rotate(-27.2)"><path d="M-24.2,0 C-18.2,-7.6 -8.5,-12.6 3.6,-12.6 C15,-12.6 23.5,-6 24.2,0 C23.5,6 15,12.6 3.6,12.6 C-8.5,12.6 -18.2,7.6 -24.2,0Z" fill="#80c27c" stroke="#348a3b" stroke-width="2.4" stroke-linejoin="round"/><path d="M-14.5,6.9 C-2.4,12 14.5,11.3 20.6,5.7" fill="none" stroke="#348a3b" stroke-width="2.8" stroke-opacity="0.45" stroke-linecap="round"/><path d="M-24.2,0 Q-14.5,0.6 -6.1,0.3" fill="none" stroke="#348a3b" stroke-width="1.6" stroke-opacity="0.75" stroke-linecap="round"/><ellipse cx="7.3" cy="-6.9" rx="10.2" ry="1.6" fill="#bfe6b9"/></g><g transform="translate(251.2,-62.5) rotate(-126.4)"><path d="M-20.1,0 C-15.1,-7 -7,-11.7 3,-11.7 C12.5,-11.7 19.5,-5.6 20.1,0 C19.5,5.6 12.5,11.7 3,11.7 C-7,11.7 -15.1,7 -20.1,0Z" fill="#80c27c" stroke="#348a3b" stroke-width="2.4" stroke-linejoin="round"/><path d="M-12.1,6.4 C-2,11.1 12.1,10.5 17.1,5.3" fill="none" stroke="#348a3b" stroke-width="2.6" stroke-opacity="0.45" stroke-linecap="round"/><path d="M-20.1,0 Q-12.1,0.6 -5,0.2" fill="none" stroke="#348a3b" stroke-width="1.6" stroke-opacity="0.75" stroke-linecap="round"/><ellipse cx="6" cy="-6.4" rx="8.5" ry="1.5" fill="#bfe6b9"/></g><g transform="translate(290.3,-46.9) rotate(-20.3)"><path d="M-25.8,0 C-19.4,-8.1 -9,-13.5 3.9,-13.5 C16,-13.5 25,-6.5 25.8,0 C25,6.5 16,13.5 3.9,13.5 C-9,13.5 -19.4,8.1 -25.8,0Z" fill="#80c27c" stroke="#348a3b" stroke-width="2.4" stroke-linejoin="round"/><path d="M-15.5,7.4 C-2.6,12.8 15.5,12.2 21.9,6.1" fill="none" stroke="#348a3b" stroke-width="3" stroke-opacity="0.45" stroke-linecap="round"/><path d="M-25.8,0 Q-15.5,0.7 -6.5,0.3" fill="none" stroke="#348a3b" stroke-width="1.6" stroke-opacity="0.75" stroke-linecap="round"/><ellipse cx="7.7" cy="-7.4" rx="10.8" ry="1.8" fill="#bfe6b9"/></g><g transform="translate(229.1,-26.2) rotate(-108.4)"><path d="M-20,0 C-15,-6.5 -7,-10.8 3,-10.8 C12.4,-10.8 19.4,-5.2 20,0 C19.4,5.2 12.4,10.8 3,10.8 C-7,10.8 -15,6.5 -20,0Z" fill="#80c27c" stroke="#348a3b" stroke-width="2.4" stroke-linejoin="round"/><path d="M-12,5.9 C-2,10.3 12,9.7 17,4.9" fill="none" stroke="#348a3b" stroke-width="2.4" stroke-opacity="0.45" stroke-linecap="round"/><path d="M-20,0 Q-12,0.5 -5,0.2" fill="none" stroke="#348a3b" stroke-width="1.6" stroke-opacity="0.75" stroke-linecap="round"/><ellipse cx="6" cy="-5.9" rx="8.4" ry="1.4" fill="#bfe6b9"/></g><g transform="translate(259,-9.9) rotate(-10.3)"><path d="M-23.4,0 C-17.5,-5.9 -8.2,-9.9 3.5,-9.9 C14.5,-9.9 22.7,-4.8 23.4,0 C22.7,4.8 14.5,9.9 3.5,9.9 C-8.2,9.9 -17.5,5.9 -23.4,0Z" fill="#80c27c" stroke="#348a3b" stroke-width="2.4" stroke-linejoin="round"/><path d="M-14,5.4 C-2.3,9.4 14,8.9 19.8,4.5" fill="none" stroke="#348a3b" stroke-width="2.2" stroke-opacity="0.45" stroke-linecap="round"/><path d="M-23.4,0 Q-14,0.5 -5.8,0.2" fill="none" stroke="#348a3b" stroke-width="1.6" stroke-opacity="0.75" stroke-linecap="round"/><ellipse cx="7" cy="-5.4" rx="9.8" ry="1.3" fill="#bfe6b9"/></g><path d="M151.5,-127 C152.5,-122.2 155,-108.8 157.5,-98 C160,-87.2 164.5,-74.8 166.5,-62 C168.5,-49.2 170.7,-32.5 169.5,-21 C168.3,-9.5 161.2,2.3 159.5,7" fill="none" stroke="#3d8c43" stroke-width="8" stroke-linecap="round"/><path d="M151.5,-127 C152.5,-122.2 155,-108.8 157.5,-98 C160,-87.2 164.5,-74.8 166.5,-62 C168.5,-49.2 170.7,-32.5 169.5,-21 C168.3,-9.5 161.2,2.3 159.5,7" fill="none" stroke="#a0d49c" stroke-width="5" stroke-linecap="round"/><g transform="translate(139,-151) rotate(-118.4)"><path d="M-28.8,0 C-21.6,-7.6 -10.1,-12.6 4.3,-12.6 C17.9,-12.6 27.9,-6 28.8,0 C27.9,6 17.9,12.6 4.3,12.6 C-10.1,12.6 -21.6,7.6 -28.8,0Z" fill="#a0d49c" stroke="#3d8c43" stroke-width="2.4" stroke-linejoin="round"/><path d="M-17.3,6.9 C-2.9,12 17.3,11.3 24.5,5.7" fill="none" stroke="#3d8c43" stroke-width="2.8" stroke-opacity="0.45" stroke-linecap="round"/><path d="M-28.8,0 Q-17.3,0.6 -7.2,0.3" fill="none" stroke="#3d8c43" stroke-width="1.6" stroke-opacity="0.75" stroke-linecap="round"/><ellipse cx="8.6" cy="-6.9" rx="12.1" ry="1.6" fill="#d2f0cc"/></g><g transform="translate(137.7,-108) rotate(-153.4)"><path d="M-23.3,0 C-17.5,-8.1 -8.2,-13.5 3.5,-13.5 C14.4,-13.5 22.6,-6.5 23.3,0 C22.6,6.5 14.4,13.5 3.5,13.5 C-8.2,13.5 -17.5,8.1 -23.3,0Z" fill="#a0d49c" stroke="#3d8c43" stroke-width="2.4" stroke-linejoin="round"/><path d="M-14,7.4 C-2.3,12.8 14,12.2 19.8,6.1" fill="none" stroke="#3d8c43" stroke-width="3" stroke-opacity="0.45" stroke-linecap="round"/><path d="M-23.3,0 Q-14,0.7 -5.8,0.3" fill="none" stroke="#3d8c43" stroke-width="1.6" stroke-opacity="0.75" stroke-linecap="round"/><ellipse cx="7" cy="-7.4" rx="9.8" ry="1.8" fill="#d2f0cc"/></g><g transform="translate(167.6,-117.1) rotate(-61.1)"><path d="M-23,0 C-17.3,-7.6 -8.1,-12.6 3.5,-12.6 C14.3,-12.6 22.3,-6 23,0 C22.3,6 14.3,12.6 3.5,12.6 C-8.1,12.6 -17.3,7.6 -23,0Z" fill="#a0d49c" stroke="#3d8c43" stroke-width="2.4" stroke-linejoin="round"/><path d="M-13.8,6.9 C-2.3,12 13.8,11.3 19.6,5.7" fill="none" stroke="#3d8c43" stroke-width="2.8" stroke-opacity="0.45" stroke-linecap="round"/><path d="M-23,0 Q-13.8,0.6 -5.8,0.3" fill="none" stroke="#3d8c43" stroke-width="1.6" stroke-opacity="0.75" stroke-linecap="round"/><ellipse cx="6.9" cy="-6.9" rx="9.7" ry="1.6" fill="#d2f0cc"/></g><g transform="translate(150,-73) rotate(-145.9)"><path d="M-21.1,0 C-15.8,-7.6 -7.4,-12.6 3.2,-12.6 C13.1,-12.6 20.5,-6 21.1,0 C20.5,6 13.1,12.6 3.2,12.6 C-7.4,12.6 -15.8,7.6 -21.1,0Z" fill="#a0d49c" stroke="#3d8c43" stroke-width="2.4" stroke-linejoin="round"/><path d="M-12.7,6.9 C-2.1,12 12.7,11.3 18,5.7" fill="none" stroke="#3d8c43" stroke-width="2.8" stroke-opacity="0.45" stroke-linecap="round"/><path d="M-21.1,0 Q-12.7,0.6 -5.3,0.3" fill="none" stroke="#3d8c43" stroke-width="1.6" stroke-opacity="0.75" stroke-linecap="round"/><ellipse cx="6.3" cy="-6.9" rx="8.9" ry="1.6" fill="#d2f0cc"/></g><g transform="translate(181.9,-80.1) rotate(-49.3)"><path d="M-25.4,0 C-19.1,-8.1 -8.9,-13.5 3.8,-13.5 C15.8,-13.5 24.7,-6.5 25.4,0 C24.7,6.5 15.8,13.5 3.8,13.5 C-8.9,13.5 -19.1,8.1 -25.4,0Z" fill="#a0d49c" stroke="#3d8c43" stroke-width="2.4" stroke-linejoin="round"/><path d="M-15.3,7.4 C-2.5,12.8 15.3,12.2 21.6,6.1" fill="none" stroke="#3d8c43" stroke-width="3" stroke-opacity="0.45" stroke-linecap="round"/><path d="M-25.4,0 Q-15.3,0.7 -6.4,0.3" fill="none" stroke="#3d8c43" stroke-width="1.6" stroke-opacity="0.75" stroke-linecap="round"/><ellipse cx="7.6" cy="-7.4" rx="10.7" ry="1.8" fill="#d2f0cc"/></g><g transform="translate(154.6,-33.9) rotate(-136.3)"><path d="M-21.3,0 C-16,-7.6 -7.4,-12.6 3.2,-12.6 C13.2,-12.6 20.6,-6 21.3,0 C20.6,6 13.2,12.6 3.2,12.6 C-7.4,12.6 -16,7.6 -21.3,0Z" fill="#a0d49c" stroke="#3d8c43" stroke-width="2.4" stroke-linejoin="round"/><path d="M-12.8,6.9 C-2.1,12 12.8,11.3 18.1,5.7" fill="none" stroke="#3d8c43" stroke-width="2.8" stroke-opacity="0.45" stroke-linecap="round"/><path d="M-21.3,0 Q-12.8,0.6 -5.3,0.3" fill="none" stroke="#3d8c43" stroke-width="1.6" stroke-opacity="0.75" stroke-linecap="round"/><ellipse cx="6.4" cy="-6.9" rx="8.9" ry="1.6" fill="#d2f0cc"/></g><g transform="translate(185.1,-33.3) rotate(-43.6)"><path d="M-20.3,0 C-15.3,-7 -7.1,-11.7 3.1,-11.7 C12.6,-11.7 19.7,-5.6 20.3,0 C19.7,5.6 12.6,11.7 3.1,11.7 C-7.1,11.7 -15.3,7 -20.3,0Z" fill="#a0d49c" stroke="#3d8c43" stroke-width="2.4" stroke-linejoin="round"/><path d="M-12.2,6.4 C-2,11.1 12.2,10.5 17.3,5.3" fill="none" stroke="#3d8c43" stroke-width="2.6" stroke-opacity="0.45" stroke-linecap="round"/><path d="M-20.3,0 Q-12.2,0.6 -5.1,0.2" fill="none" stroke="#3d8c43" stroke-width="1.6" stroke-opacity="0.75" stroke-linecap="round"/><ellipse cx="6.1" cy="-6.4" rx="8.5" ry="1.5" fill="#d2f0cc"/></g></g>
</defs>
<path d="M0,2 H1208 Q1230,2 1230,24 V91 Q1230,113 1208,113 H0 Z" fill="#21544a"/>
<text transform="translate(122,81.5) scale(0.8025,1)" font-family="Liberation Sans" font-weight="bold" font-size="74.7" letter-spacing="6.5" fill="#fff" stroke="#fff" stroke-width="2.6" stroke-linejoin="round">UPGRADED DRAINAGE SYSTEM</text>
<rect x="507" y="810.5" width="700" height="260.5" rx="35" fill="#21544a"/>
<rect x="400" y="1240" width="866" height="246" rx="35" fill="#21544a"/>
<text x="566" y="871.5" font-family="Liberation Sans" font-weight="normal" font-size="40" fill="#fff" stroke="#fff" stroke-width="0.7" stroke-linejoin="round" textLength="510" lengthAdjust="spacingAndGlyphs">Each piece&#39;s ergonomic design</text>
<text x="567.4" y="923.8" font-family="Liberation Sans" font-weight="normal" font-size="40" fill="#fff" stroke="#fff" stroke-width="0.7" stroke-linejoin="round" textLength="515.6" lengthAdjust="spacingAndGlyphs">features mutiple drainage holes</text>
<text x="566.4" y="975.8" font-family="Liberation Sans" font-weight="normal" font-size="40" fill="#fff" stroke="#fff" stroke-width="0.7" stroke-linejoin="round" textLength="544.6" lengthAdjust="spacingAndGlyphs">at the bottom to assist in flushing</text>
<text x="566.4" y="1028" font-family="Liberation Sans" font-weight="normal" font-size="40" fill="#fff" stroke="#fff" stroke-width="0.7" stroke-linejoin="round" textLength="498.0" lengthAdjust="spacingAndGlyphs">out excess water from the soil.</text>
<text x="500" y="1320.6" font-family="Liberation Sans" font-weight="normal" font-size="40" fill="#fff" stroke="#fff" stroke-width="0.7" stroke-linejoin="round" textLength="716" lengthAdjust="spacingAndGlyphs">The water tray in the base can be separated</text>
<text x="500" y="1372.9" font-family="Liberation Sans" font-weight="normal" font-size="40" fill="#fff" stroke="#fff" stroke-width="0.7" stroke-linejoin="round" textLength="712" lengthAdjust="spacingAndGlyphs">to prevent water from overflowing and form</text>
<text x="500" y="1424.6" font-family="Liberation Sans" font-weight="normal" font-size="40" fill="#fff" stroke="#fff" stroke-width="0.7" stroke-linejoin="round" textLength="229" lengthAdjust="spacingAndGlyphs">water storage.</text>
<g transform="translate(136,537)"><use href="#potframe"/><g clip-path="url(#soilclip)"><rect x="0" y="0" width="314" height="300" fill="url(#soilTL)"/><use href="#bands"/><use href="#dots" fill="url(#dottl)"/><use href="#roots" stroke="url(#rootTL)" stroke-width="1.9" stroke-opacity="0.9"/></g><path d="M21,2 H293 V208 Q293,215 286,216 L281,217 Q273,218 273,227 V283 H218 C195,283 178,260 157,260 C136,260 119,283 96,283 H39 V227 Q39,218 31,217 L26,216 Q21,215 21,208 Z" fill="none" stroke="#8a7a7a" stroke-width="1.4" stroke-opacity="0.7"/><rect x="74" y="4.4" width="13.6" height="22.6" fill="url(#stemgD)"/><path d="M66,27 L95.6,27 L80.8,51.9 Z" fill="url(#headgD)" stroke="#1c3346" stroke-width="1" stroke-opacity="0.7" stroke-linejoin="round"/><rect x="146.4" y="30.5" width="13.6" height="17.8" fill="url(#stemgD)"/><path d="M138.4,48.3 L168,48.3 L153.2,74.4 Z" fill="url(#headgD)" stroke="#1c3346" stroke-width="1" stroke-opacity="0.7" stroke-linejoin="round"/><rect x="230.7" y="4.4" width="13.7" height="22.6" fill="url(#stemgD)"/><path d="M222.7,27 L252.4,27 L237.6,51.9 Z" fill="url(#headgD)" stroke="#1c3346" stroke-width="1" stroke-opacity="0.7" stroke-linejoin="round"/></g><g transform="translate(136,537)"><use href="#plant" clip-path="url(#plantclip)"/></g>
<g transform="translate(1152.5,758)"><use href="#potframe"/><g clip-path="url(#soilclip)"><rect x="0" y="0" width="314" height="300" fill="url(#soilR)"/><use href="#bands"/><use href="#dots" fill="url(#dotr)"/><use href="#roots" stroke="url(#rootR)" stroke-width="1.9" stroke-opacity="0.9"/></g><path d="M21,2 H293 V208 Q293,215 286,216 L281,217 Q273,218 273,227 V283 H218 C195,283 178,260 157,260 C136,260 119,283 96,283 H39 V227 Q39,218 31,217 L26,216 Q21,215 21,208 Z" fill="none" stroke="#8a7a7a" stroke-width="1.4" stroke-opacity="0.7"/><rect x="70.2" y="216.8" width="14.2" height="18.1" fill="url(#stemgD)"/><path d="M61.9,234.9 L92.8,234.9 L77.3,260.5 Z" fill="url(#headgD)" stroke="#1c3346" stroke-width="1" stroke-opacity="0.7" stroke-linejoin="round"/><rect x="147" y="195.4" width="14.2" height="18.2" fill="url(#stemgD)"/><path d="M138.7,213.6 L169.6,213.6 L154.1,239.2 Z" fill="url(#headgD)" stroke="#1c3346" stroke-width="1" stroke-opacity="0.7" stroke-linejoin="round"/><rect x="226.8" y="216.8" width="13.8" height="18.1" fill="url(#stemgD)"/><path d="M218.7,234.9 L248.6,234.9 L233.6,260.5 Z" fill="url(#headgD)" stroke="#1c3346" stroke-width="1" stroke-opacity="0.7" stroke-linejoin="round"/><path d="M16,286 Q80,283 157,285 Q230,287 298,285 V300 H16 Z" fill="#7fd3f2" fill-opacity="0.9"/><path d="M16,286 Q80,283 157,285 Q230,287 298,285" fill="none" stroke="#c8eefc" stroke-width="1.5"/></g><g transform="translate(1152.5,758)"><use href="#plant" clip-path="url(#plantclip)"/></g>
<g transform="translate(136,1174.6)"><use href="#potframe"/><g clip-path="url(#soilclip)"><rect x="0" y="0" width="314" height="300" fill="url(#soilR)"/><use href="#bands"/><use href="#dots" fill="url(#dotb)"/><use href="#roots" stroke="url(#rootR)" stroke-width="1.9" stroke-opacity="0.9"/></g><path d="M21,2 H293 V208 Q293,215 286,216 L281,217 Q273,218 273,227 V283 H218 C195,283 178,260 157,260 C136,260 119,283 96,283 H39 V227 Q39,218 31,217 L26,216 Q21,215 21,208 Z" fill="none" stroke="#8a7a7a" stroke-width="1.4" stroke-opacity="0.7"/><rect x="72.1" y="259.8" width="14.7" height="16.2" fill="url(#stemgU)"/><path d="M63.5,259.8 L95.4,259.8 L79.5,233.8 Z" fill="url(#headgU)" stroke="#1c3346" stroke-width="1" stroke-opacity="0.7" stroke-linejoin="round"/><rect x="148.9" y="239" width="14.4" height="37" fill="url(#stemgU)"/><path d="M140.5,239 L171.7,239 L156.1,213 Z" fill="url(#headgU)" stroke="#1c3346" stroke-width="1" stroke-opacity="0.7" stroke-linejoin="round"/><rect x="228.7" y="259.8" width="14.4" height="16.2" fill="url(#stemgU)"/><path d="M220.3,259.8 L251.5,259.8 L235.9,233.8 Z" fill="url(#headgU)" stroke="#1c3346" stroke-width="1" stroke-opacity="0.7" stroke-linejoin="round"/><path d="M15.6,275 Q60,273 110,278 Q157,283 200,278 Q250,273 299,276 V300 H15.6 Z" fill="#80d2f1" fill-opacity="0.92"/><path d="M15.6,275 Q60,273 110,278 Q157,283 200,278 Q250,273 299,276" fill="none" stroke="#c8eefc" stroke-width="1.5"/><circle cx="22" cy="290" r="2.2" fill="none" stroke="#d8f4ff" stroke-width="1"/><circle cx="40" cy="294" r="1.5" fill="none" stroke="#d8f4ff" stroke-width="1"/><circle cx="58" cy="287" r="1.6" fill="none" stroke="#d8f4ff" stroke-width="1"/><circle cx="100" cy="296" r="1.4" fill="none" stroke="#d8f4ff" stroke-width="1"/><circle cx="138" cy="291" r="2" fill="none" stroke="#d8f4ff" stroke-width="1"/><circle cx="162" cy="286" r="1.4" fill="none" stroke="#d8f4ff" stroke-width="1"/><circle cx="205" cy="293" r="1.8" fill="none" stroke="#d8f4ff" stroke-width="1"/><circle cx="245" cy="290" r="1.5" fill="none" stroke="#d8f4ff" stroke-width="1"/><circle cx="268" cy="296" r="1.3" fill="none" stroke="#d8f4ff" stroke-width="1"/><circle cx="290" cy="288" r="2" fill="none" stroke="#d8f4ff" stroke-width="1"/></g><g transform="translate(136,1174.6)"><use href="#plant" clip-path="url(#plantclip)"/></g>
<path d="M523.3,493.7 C523.8,487.5 541.5,483.3 549.3,481.6 C557.1,479.9 588.5,477 601.3,476.4 C614,475.8 660.6,476.2 676.8,476 C693,475.8 754.6,473.2 763.4,474 C772.2,474.8 765.1,481.4 764.6,484 C764.1,486.6 760,496.2 758,500 C756,503.8 750.8,518 745,522 C739.2,526 710.9,536.7 700.4,539.6 C689.9,542.5 650.8,549.2 640,551 C629.2,552.8 600.9,557.3 592.7,557.8 C584.5,558.3 562.9,557.4 558,556 C553.1,554.6 547.5,550.2 544,544 C540.5,537.8 522.8,499.9 523.3,493.7Z" fill="#d6eaf8"/><path d="M512.9,374.1 C519,370.1 534,356.5 549.3,349.9 C564.6,343.2 584.8,338.7 604.8,334.2 C624.8,329.7 658.3,324.9 669,323" stroke="#111" fill="none" stroke-linecap="round" stroke-linejoin="round" stroke-width="1.3"/><path d="M510,375.5 C518.3,375.1 544.2,375.2 560,373 C575.8,370.8 587.9,368 604.8,362.5 C621.7,357 652,343.8 661.5,340" stroke="#111" fill="none" stroke-linecap="round" stroke-linejoin="round" stroke-width="1.3"/><path d="M514,373.5 C512.2,375.1 505.5,378.6 503,383 C500.5,387.4 499.1,392.1 499,400.1 C498.9,408.2 499.9,420.3 502.5,431.3 C505.1,442.3 511.2,455.6 514.7,466 C518.2,476.4 521.9,489.1 523.3,493.7" stroke="#111" fill="none" stroke-linecap="round" stroke-linejoin="round" stroke-width="2"/><path d="M686.9,322.2 C690.6,322.4 703.1,322.4 709.3,323.7 C715.5,324.9 720.5,327 724.2,329.7 C727.9,332.4 729.3,334.2 731.6,340.1 C733.9,346 733.1,344.9 738,365 C742.9,385.1 757,444.6 760.8,460.5" stroke="#111" fill="none" stroke-linecap="round" stroke-linejoin="round" stroke-width="1.3"/><path d="M558,556.1 C562.6,556.3 581.8,558.5 592.7,557.8 C603.6,557.1 625.6,553.3 640,550.9 C654.4,548.5 686.4,543.5 700.4,539.6 C714.4,535.7 737.3,527.3 745,522 C752.7,516.7 755.4,505.1 758,500 C760.6,494.9 763.8,487.2 764.6,484 C765.4,480.8 763.8,477.1 763.7,476" stroke="#111" fill="none" stroke-linecap="round" stroke-linejoin="round" stroke-width="1.1"/><ellipse cx="605.4" cy="349" rx="57.7" ry="10" transform="rotate(-13.2 605.4 349)" fill="#111"/><path d="M669,323 C670.7,319.9 674.7,310.2 679.4,304.3 C684.1,298.4 690.8,292.6 697.3,287.9 C703.8,283.2 713.6,278.5 718.2,276 C722.8,273.5 723.9,273.5 725,273" stroke="#111" fill="none" stroke-linecap="round" stroke-linejoin="round" stroke-width="1.8"/><path d="M680.9,331.2 C682.1,329 684.7,322.8 688.4,317.8 C692.1,312.8 697.3,305.8 703.3,301.3 C709.3,296.8 715.8,293.6 724.2,290.9 C732.7,288.2 749,285.9 754,284.9" stroke="#111" fill="none" stroke-linecap="round" stroke-linejoin="round" stroke-width="1.8"/><path d="M843.5,386 C842.4,390.9 840.8,405.6 836.8,415.6 C832.8,425.6 826.5,437.8 819.7,446 C812.9,454.2 805.3,460 796,465 C786.7,470 773,474.4 763.7,475.9 C754.4,477.4 744,474.3 740,474" stroke="#111" fill="none" stroke-linecap="round" stroke-linejoin="round" stroke-width="1.8"/><path d="M828.3,393.5 C826.9,397.8 823.5,411.3 819.7,419.4 C815.9,427.5 811,436.2 805.5,442.2 C800,448.2 794,452.4 786.5,455.5 C779,458.6 768.2,460.1 760.8,460.7 C753.3,461.3 745,459.5 741.8,459.3" stroke="#111" fill="none" stroke-linecap="round" stroke-linejoin="round" stroke-width="1.8"/><path d="M983.8,163.6 C978.4,167.3 964.2,178.4 951.7,186.1 C939.2,193.8 923.2,205.7 909,209.9 C894.8,214.1 880.5,210.3 866.2,211.1 C852,211.9 834.6,212.4 823.5,214.6 C812.4,216.8 809.2,220.1 799.7,224.1 C790.2,228.1 774,235 766.5,238.4 C759,241.8 758.8,240.8 754.6,244.3 C750.5,247.9 743.8,257.1 741.6,259.7" stroke="#111" fill="none" stroke-linecap="round" stroke-linejoin="round" stroke-width="1.6"/><path d="M741.6,259.7 C739.4,260.5 732.3,262.1 728.5,264.5 C724.7,266.9 719.8,271.2 719,274 C718.2,276.8 720.1,279.5 723.7,281.1 C727.3,282.7 734.1,283.5 740.4,283.5 C746.7,283.5 755.4,282.3 761.7,281.1 C768,279.9 771.3,278.8 778.4,276.4 C785.5,274 800.1,268.5 804.5,266.9" stroke="#111" fill="none" stroke-linecap="round" stroke-linejoin="round" stroke-width="1.6"/><path d="M741.6,259.7 C742,260.9 744.1,264.5 743.9,266.9 C743.7,269.3 743.8,272 740.4,274 C737,276 726.5,277.9 723.7,278.7" stroke="#111" fill="none" stroke-linecap="round" stroke-linejoin="round" stroke-width="1.4"/><path d="M829.4,240.7 C827.6,243.1 823.7,250.2 818.7,255 C813.8,259.8 806.8,265.6 799.7,269.2 C792.6,272.8 783.5,273.6 776,276.4 C768.5,279.2 758.2,284.3 754.6,285.9" stroke="#111" fill="none" stroke-linecap="round" stroke-linejoin="round" stroke-width="1.5"/><path d="M766.5,241.9 L768.9,252.6" stroke="#111" fill="none" stroke-linecap="round" stroke-linejoin="round" stroke-width="1.2"/><path d="M754.6,287 C752.4,288.4 744,292 741.6,295.4 C739.2,298.8 739.4,303.6 740.4,307.2 C741.4,310.8 744,314.1 747.5,316.7 C751,319.3 755.8,322.5 761.7,322.7 C767.6,322.9 774,320.5 783.1,317.9 C792.2,315.3 809.7,308.6 816.4,307.2 C823.1,305.8 822.3,309.2 823.5,309.6" stroke="#111" fill="none" stroke-linecap="round" stroke-linejoin="round" stroke-width="1.6"/><path d="M757,304.9 L761.7,321.5" stroke="#111" fill="none" stroke-linecap="round" stroke-linejoin="round" stroke-width="1.2"/><path d="M823.5,294.2 L842.5,288.2" stroke="#111" fill="none" stroke-linecap="round" stroke-linejoin="round" stroke-width="1.4"/><path d="M754.6,322.7 C755.4,324.9 757,331.9 759.4,335.7 C761.8,339.4 765.7,343.2 768.9,345.2 C772.1,347.2 772.1,348 778.4,347.6 C784.7,347.2 797,343.9 806.9,342.9 C816.8,341.9 832.6,341.9 837.7,341.7" stroke="#111" fill="none" stroke-linecap="round" stroke-linejoin="round" stroke-width="1.6"/><path d="M771.2,338.1 L776,346.4" stroke="#111" fill="none" stroke-linecap="round" stroke-linejoin="round" stroke-width="1.2"/><path d="M842.5,329.8 L861.5,323.9" stroke="#111" fill="none" stroke-linecap="round" stroke-linejoin="round" stroke-width="1.4"/><path d="M766.5,347.6 C767.3,350.4 768.4,359.6 771.2,364.2 C774,368.8 776.8,373.7 783.1,374.9 C789.4,376.1 800.9,373.2 809.2,371.4 C817.5,369.6 824.3,365.8 833,364.2 C841.7,362.6 856.8,362.3 861.5,361.9" stroke="#111" fill="none" stroke-linecap="round" stroke-linejoin="round" stroke-width="1.6"/><path d="M780.7,357.1 L785.5,372.5" stroke="#111" fill="none" stroke-linecap="round" stroke-linejoin="round" stroke-width="1.2"/><path d="M785.5,376.1 C786.3,378.1 787,384.8 790.2,388 C793.4,391.2 799.8,393.7 804.5,395.1 C809.2,396.5 813.6,396.9 818.7,396.3 C823.9,395.7 829.5,393.5 835.4,391.5 C841.3,389.5 846.1,387.4 854.4,384.4 C862.7,381.4 875.3,378.6 885.2,373.7 C895.1,368.8 905,361.8 913.7,354.7 C922.4,347.6 930,339.3 937.5,331 C945,322.7 953.7,310 958.8,304.9 C963.9,299.8 963.9,302.9 968.3,300.1 C972.7,297.3 972.7,297.1 985,288.2 C997.3,279.3 1032.5,253.6 1042,246.7" stroke="#111" fill="none" stroke-linecap="round" stroke-linejoin="round" stroke-width="1.5"/><path d="M811.6,385.6 L814,395.1" stroke="#111" fill="none" stroke-linecap="round" stroke-linejoin="round" stroke-width="1.2"/><path d="M296,458 C295.2,460.2 289.2,475.3 288,480 C286.8,484.7 284.7,499 284,505 C283.3,511 279.8,536.5 281,540 C282.2,543.5 294.3,543.5 296,540 C297.7,536.5 297.4,511 298,505 C298.6,499 301.2,484.3 302,480 C302.8,475.7 305.6,463.8 306,462" fill="#e8f4fb" fill-opacity="0.45" stroke="#d6eaf5" stroke-width="1" stroke-opacity="0.4"/><path d="M298,448.8 C299.8,447.3 303.9,442.1 309,439.7 C314.1,437.3 317.7,435.6 328.5,434.5 C339.3,433.4 359.9,432.6 374,433.2 C388.1,433.8 402.2,436.2 413,438.4 C423.8,440.6 427.8,442.2 439,446.2 C450.2,450.2 468.8,457.5 480,462.5 C491.2,467.5 497.3,469.8 506,476.4 C514.7,483 527.7,498.1 532,502.4 L558,556.1 558,556.1 C555.7,554.1 551.3,551.8 544.1,544 C536.9,536.2 525.4,518.8 514.7,509.3 C504,499.8 494.8,494.3 480,486.8 C465.2,479.3 441.5,469.6 426,464.4 C410.5,459.1 400,457 387,455.3 C374,453.6 358.8,453.8 348,454 C337.2,454.2 328.9,455.1 322,456.6 C315.1,458.1 309,462 306.4,463.1 Z" fill="#d6eaf8" stroke="none"/><path d="M298,448.8 C299.8,447.3 303.9,442.1 309,439.7 C314.1,437.3 317.7,435.6 328.5,434.5 C339.3,433.4 359.9,432.6 374,433.2 C388.1,433.8 402.2,436.2 413,438.4 C423.8,440.6 427.8,442.2 439,446.2 C450.2,450.2 468.8,457.5 480,462.5 C491.2,467.5 497.3,469.8 506,476.4 C514.7,483 527.7,498.1 532,502.4" stroke="#111" fill="none" stroke-linecap="round" stroke-linejoin="round" stroke-width="1.4"/><path d="M306.4,463.1 C309,462 315.1,458.1 322,456.6 C328.9,455.1 337.2,454.2 348,454 C358.8,453.8 374,453.6 387,455.3 C400,457 410.5,459.1 426,464.4 C441.5,469.6 465.2,479.3 480,486.8 C494.8,494.3 504,499.8 514.7,509.3 C525.4,518.8 536.9,536.2 544.1,544 C551.3,551.8 555.7,554.1 558,556.1" stroke="#111" fill="none" stroke-linecap="round" stroke-linejoin="round" stroke-width="1.4"/><ellipse cx="301.5" cy="456" rx="4.2" ry="7" transform="rotate(-25 301.5 456)" fill="#d6eaf8" stroke="#223" stroke-width="1.2"/>
</svg></body></html>
